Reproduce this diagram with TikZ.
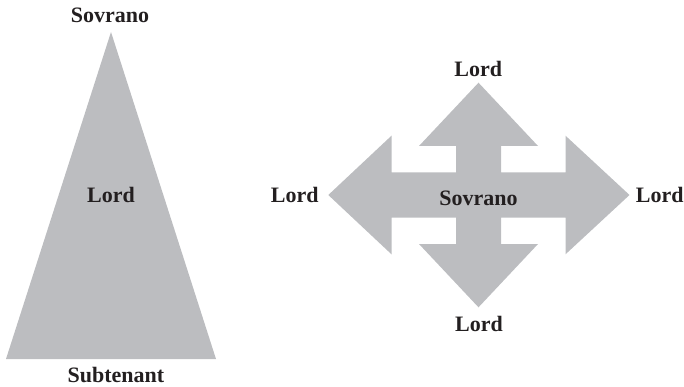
\documentclass[tikz,border=0pt]{standalone}
\usepackage{fontspec}
\setmainfont{Liberation Serif}
\definecolor{shapegray}{HTML}{BCBDC0}
\definecolor{txt}{HTML}{231F20}
\begin{document}
\begin{tikzpicture}[x=1pt,y=-1pt,
  lbl/.style={anchor=base,inner sep=0pt,text=txt,font=\fontsize{22}{25}\selectfont\bfseries},
  shp/.style={fill=shapegray,draw=none}]
\useasboundingbox (0,0) rectangle (684,387);
% triangle
\coordinate (apex) at (111,32);
\coordinate (bl) at (6,359);
\coordinate (br) at (216,359);
\fill[shapegray] (apex) -- (br) -- (bl) -- cycle;
\node[lbl] (tsov) at (110,23) {Sovrano};
\node[lbl] (tlord) at (111,203) {Lord};
\node[lbl] (tsub) at (116,382) {Subtenant};
% cross
\coordinate (c) at (478.5,195);
\begin{scope}[shift={(c)}]
\fill[shapegray]
  (0,-112.3) -- (59.5,-49) -- (22.5,-49) -- (22.5,-22.5)
  -- (87,-22.5) -- (87,-59.3) -- (151,0) -- (87,59.3) -- (87,22.5)
  -- (22.5,22.5) -- (22.5,49) -- (59.5,49) -- (0,112.3) -- (-59.5,49)
  -- (-22.5,49) -- (-22.5,22.5) -- (-87,22.5) -- (-87,59.3) -- (-150.2,0)
  -- (-87,-59.3) -- (-87,-22.5) -- (-22.5,-22.5) -- (-22.5,-49)
  -- (-59.5,-49) -- cycle;
\end{scope}
\node[lbl] (csov) at (478.5,205) {Sovrano};
\node[lbl] (ltop) at (478.3,77) {Lord};
\node[lbl] (lbot) at (479,331) {Lord};
\node[lbl] (lleft) at (294.7,203) {Lord};
\node[lbl] (lright) at (659.7,203) {Lord};
\end{tikzpicture}
\end{document}
